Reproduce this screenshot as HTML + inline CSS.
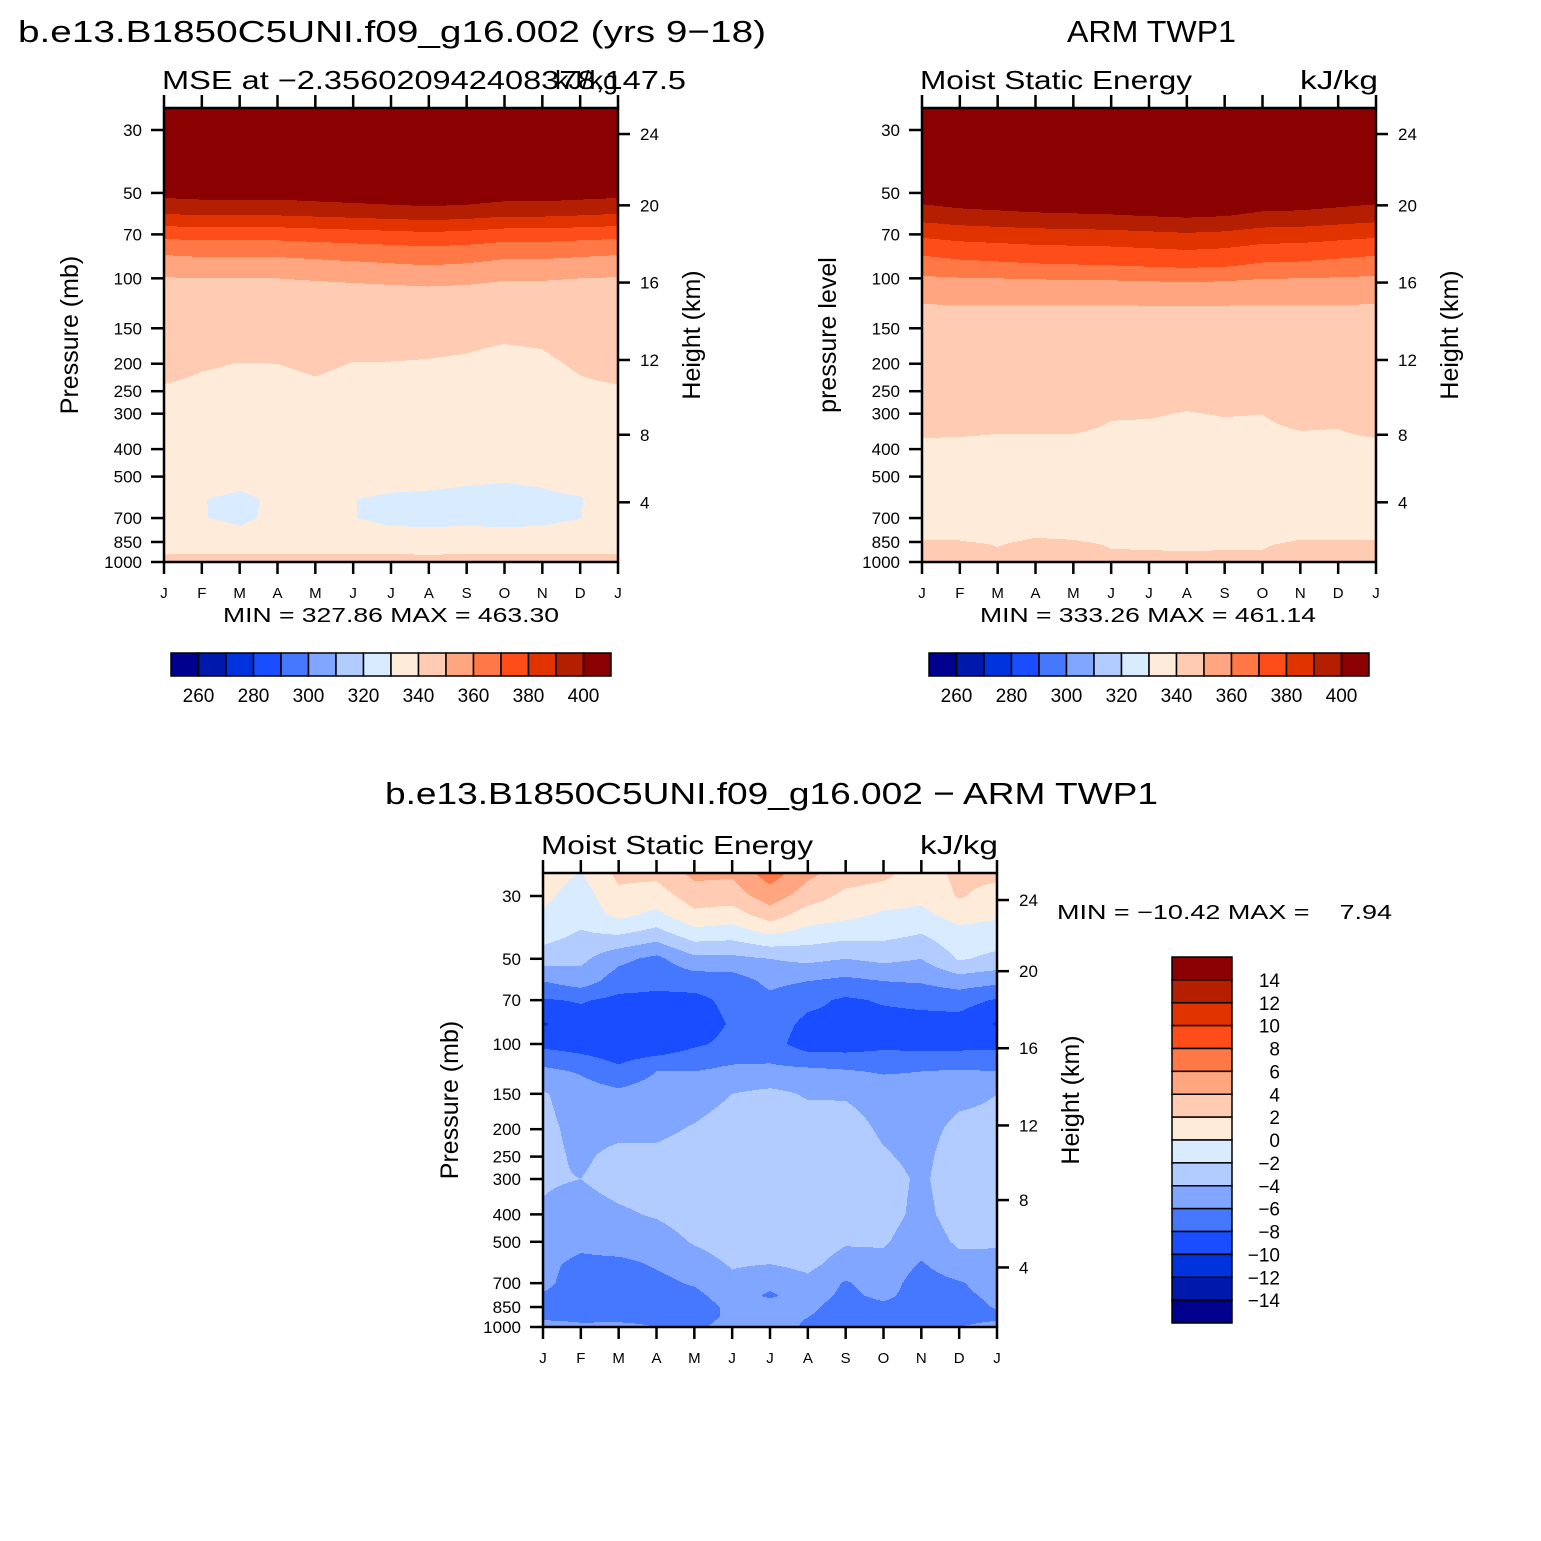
<!DOCTYPE html>
<html><head><meta charset="utf-8"><style>
html,body{margin:0;padding:0;background:#fff;}
svg{display:block;font-family:"Liberation Sans",sans-serif;}
</style></head><body>
<svg id="fig" xmlns="http://www.w3.org/2000/svg" width="1541" height="1541" viewBox="0 0 1541 1541">
<rect width="1541" height="1541" fill="#fff"/>
<text x="18" y="42" font-size="31" textLength="748" lengthAdjust="spacingAndGlyphs">b.e13.B1850C5UNI.f09_g16.002 (yrs 9−18)</text>
<text x="1067" y="42" font-size="31" textLength="169" lengthAdjust="spacingAndGlyphs">ARM TWP1</text>
<text x="162" y="89" font-size="26" textLength="524" lengthAdjust="spacingAndGlyphs">MSE at −2.356020942408378,147.5</text>
<text x="555" y="89" font-size="26" textLength="63" lengthAdjust="spacingAndGlyphs">kJ/kg</text>
<text x="920" y="89" font-size="26" textLength="272" lengthAdjust="spacingAndGlyphs">Moist Static Energy</text>
<text x="1300" y="89" font-size="26" textLength="78" lengthAdjust="spacingAndGlyphs">kJ/kg</text>
<text x="385" y="804" font-size="31" textLength="773" lengthAdjust="spacingAndGlyphs">b.e13.B1850C5UNI.f09_g16.002 − ARM TWP1</text>
<text x="541" y="854" font-size="26" textLength="272" lengthAdjust="spacingAndGlyphs">Moist Static Energy</text>
<text x="920" y="854" font-size="26" textLength="78" lengthAdjust="spacingAndGlyphs">kJ/kg</text>
<text x="391" y="622" font-size="20" text-anchor="middle" textLength="336" lengthAdjust="spacingAndGlyphs">MIN = 327.86 MAX = 463.30</text>
<text x="1148" y="622" font-size="20" text-anchor="middle" textLength="336" lengthAdjust="spacingAndGlyphs">MIN = 333.26 MAX = 461.14</text>
<text x="1057" y="919" font-size="20" textLength="335" lengthAdjust="spacingAndGlyphs" xml:space="preserve">MIN = −10.42 MAX =    7.94</text>
<text transform="translate(78,335) rotate(-90)" font-size="25" text-anchor="middle">Pressure  (mb)</text>
<text transform="translate(700,335) rotate(-90)" font-size="25" text-anchor="middle">Height  (km)</text>
<text transform="translate(836,335) rotate(-90)" font-size="25" text-anchor="middle">pressure level</text>
<text transform="translate(1458,335) rotate(-90)" font-size="25" text-anchor="middle">Height  (km)</text>
<text transform="translate(458,1100) rotate(-90)" font-size="25" text-anchor="middle">Pressure  (mb)</text>
<text transform="translate(1079,1100) rotate(-90)" font-size="25" text-anchor="middle">Height  (km)</text>
</svg>
<script>
const months = ["J","F","M","A","M","J","J","A","S","O","N","D","J"];
const pTicks = [30,50,70,100,150,200,250,300,400,500,700,850,1000];
const hTicks = [24,20,16,12,8,4];
const hTickP = [31,55.3,103.5,194,356,616];
const palette = ["#00008f","#0019ad","#0033dd","#1a4dff","#4577ff","#80a6ff","#b3ccff","#d9ebff","#ffebd9","#ffcbb3","#ffa680","#ff7845","#ff4d1a","#e03300","#b31f00","#8b0000"];
const cbLevels1 = [260,270,280,290,300,310,320,330,340,350,360,370,380,390,400];
const cbLevels3 = [-14,-12,-10,-8,-6,-4,-2,0,2,4,6,8,10,12,14];
const levels1 = [25,30,40,50,55,60,70,80,90,100,125,150,200,250,300,400,500,600,700,850,925,1000];
const mse1 = [
[430,430,430,430,430,430,430,430,430,430,430,430,430],
[425,425,425,425,425,425,425,425,425,425,425,425,425],
[415,415,415,415,415,415,415,415,415,415,415,415,415],
[403,404,404,404,405,406,407,408,407,405,405,404,403],
[396,397,397,397,398,399,400,401,400,398,398,397,396],
[389,390,390,390,391,392,393,394,393,391,391,390,389],
[373,374,374,374,375,376,377,378,377,375,375,374,373],
[362,363,363,363,364,365,366,367,366,364,364,363,362],
[355,356,356,356,357,358,359,360,359,357,357,356,355],
[349.5,350,350,350,350.5,351,351.5,352,351.5,350.5,350.5,350,349.5],
[345,345,345,345,345,345,345.2,345.3,345.2,345,345,345,345],
[343,343,342.8,342.8,342.5,341.5,341.5,341.2,341,340.8,341,342.5,343],
[341.5,340.4,339.9,340,340.6,339.9,339.9,339.8,339.6,339,339.3,340.5,341.5],
[339.5,339,338.8,338.8,339.3,338.8,338.8,338.7,338.6,338.3,338.5,339.3,339.5],
[337,337,336.5,336.5,337,336.5,336.5,336.5,336.5,336,336.5,337,337],
[334,334,333.5,333.5,334,333.5,333.5,333.5,333,333,333,334,334],
[333,332,331,332,333,331.5,331,330.8,330.5,330.3,330.6,331.5,333],
[332,330.1,329.4,330.5,332,330.05,329.6,329.5,329.3,329.2,329.4,329.8,332],
[333,330.1,329.5,330.6,332,330.05,329.5,329.4,329.5,329.4,329.5,329.9,333],
[334,332,331,332,333,331.5,331,331,331,331,331,332,334],
[339.7,339.6,339.5,339.5,339.6,339.6,339.5,339.4,339.5,339.5,339.6,339.6,339.7],
[342,342,342,342,342,342,342,342,342,342,342,342,342]];
const mse2 = [
[430,430,430,430,430,430,430,430,430,430,430,430,430],
[425,425,425,425,425,425,425,425,425,425,425,425,425],
[415,415,415,415,415,415,415,415,415,415,415,415,415],
[405,406,407,408,408,409,410,411,410,408,407,406,405],
[399.8,401.8,402.8,403.8,404.3,404.8,405.8,406.8,405.8,403.3,402.8,401.3,399.8],
[394.5,396.5,397.5,398.5,399,399.5,400.5,401.5,400.5,398,397.5,396,394.5],
[382,384,385,386,386.5,387,388,389,388,385.5,385,383.5,382],
[372.5,374.5,375.5,376.5,377,377.5,378.5,379.5,378.5,376,375.5,374,372.5],
[365,367,368,369,369.5,370,371,372,371,368.5,368,366.5,365],
[358.8,359.6,360,360.4,360.6,360.8,361.2,361.6,361.2,360.2,360,359.4,358.8],
[349.5,349.6,349.7,349.7,349.8,349.8,349.9,349.9,349.9,349.7,349.7,349.6,349.5],
[347,347,347,347,347,347,347,347,347,347,347,347,347],
[344,344,343.5,343.5,343.5,343,343,342.5,343,343,343.5,343.5,344],
[343,343,342.5,342.5,342.5,341.5,341.5,340.8,341.2,341,342,342,343],
[342.2,341.9,341.33,341.33,341.33,340.25,340.17,339.9,340.11,340.02,340.94,340.75,342.2],
[339,339,339,339,339,339,339,339,339,339,339,339,339],
[337,337,337,337,337,337,337,337,337,337,337,337,337],
[336.5,336.5,336.5,336.5,336.5,336.5,336.5,336.5,336.5,336.5,336.5,336.5,336.5],
[337,337,337,337,337,337,337,337,337,337,337,337,337],
[340.3,340.2,339.5,340.6,340.3,339.4,339.3,339.2,339.3,339.3,340.3,340.3,340.3],
[343,343,340.5,343,343,340.3,340.2,340.1,340.2,340.2,343,343,343],
[345,345,345,345,345,345,345,345,345,345,345,345,345]];
const levels3 = [25,30,35,40,50,60,70,85,100,125,150,200,250,300,400,500,600,700,775,850,925,1000];
const diff3 = [
[1,-0.1,2.5,2.5,4.5,4.3,7,4.5,3,2.5,1,2.5,2.5],
[0.5,-1,1.5,1,3,3,5,3,1.5,1,0.5,2.2,1.2],
[-0.3,-1.2,0.5,-0.5,1.5,1,3,1,0.5,-0.3,-0.5,0.8,0.3],
[-1,-2.1,-1.5,-2.5,-0.5,-0.8,0.5,-0.5,-1,-1.2,-1.8,-0.5,-0.8],
[-3,-3.5,-5.5,-6.5,-4.5,-4.5,-4,-3.5,-4,-3.5,-4,-1.8,-2.5],
[-6,-5,-7,-7.5,-7.2,-7,-5.5,-6,-6.5,-6,-5.8,-5,-5.5],
[-8.2,-7.8,-8.5,-8.5,-8.5,-7.5,-6.5,-7.5,-8.3,-7.8,-7.5,-7.2,-8.2],
[-10.2,-9,-9.5,-9.5,-9,-7.8,-7,-8.5,-8.5,-8.7,-8.7,-8.8,-10.2],
[-8.5,-9,-9.5,-9.5,-8.3,-7.5,-7.2,-9,-9,-8.5,-8.7,-8.7,-8.5],
[-5.5,-6.2,-7.5,-6,-6,-5.5,-5.5,-5.5,-5.8,-6.2,-6,-5.8,-6],
[-3.8,-5,-5.5,-5,-5,-4,-3.5,-4.2,-4.2,-4.8,-5,-4.5,-4],
[-3.5,-4.6,-4.5,-4.5,-3.8,-3,-3,-3,-3.2,-4.3,-4.7,-3.5,-3.5],
[-3.5,-4.3,-3.5,-3.5,-3,-2.8,-2.7,-2.7,-3,-3.8,-4.5,-3,-3.3],
[-3.8,-4,-3.3,-3,-3,-2.8,-2.7,-2.7,-3,-3.3,-4.3,-3,-3.2],
[-4.2,-4.8,-4.3,-3.8,-3,-2.8,-2.8,-2.8,-3.2,-3.3,-4.5,-3.2,-3.3],
[-5,-5.5,-5,-5,-3.8,-3,-3,-3,-3.8,-3.8,-5,-3.7,-3.8],
[-5.5,-6.5,-6.5,-5.8,-5,-3.8,-4,-3.5,-4.8,-4.5,-6.2,-4.6,-4.5],
[-5.5,-7,-7,-6.5,-5.8,-4.5,-5.5,-4.5,-6.2,-5,-7,-6.2,-5],
[-6.2,-7,-7,-7,-6.5,-5,-6.3,-5,-6.5,-5.5,-7,-6.5,-5.5],
[-6.5,-7.2,-7,-7,-7,-5.5,-5,-5.5,-7,-6.5,-7.2,-7,-5.8],
[-7,-7.2,-7,-7,-7,-5.5,-5,-6,-7,-6.5,-7,-7,-6.5],
[-3.5,-5,-5,-6,-6.5,-5,-4.5,-6.5,-6.5,-6,-6.5,-6,-5]];

const NS = "http://www.w3.org/2000/svg";
const fig = document.getElementById("fig");
function mk(tag, parent){ const e=document.createElementNS(NS,tag); parent.appendChild(e); return e; }
function sa(e,o){ for(const k in o) e.setAttribute(k,o[k]); return e; }

function drawPanel(id, x0, x1, yTop, y30, y1000, levels, vals, cbl){
  const g = mk("g", fig);
  
  
  const L30=Math.log10(30), L1000=3;
  const yOf = p => y30 + (Math.log10(p)-L30)/(L1000-L30)*(y1000-y30);
  const pOf = y => Math.pow(10, L30 + (y-y30)/(y1000-y30)*(L1000-L30));
  const xOf = m => x0 + m/(months.length-1)*(x1-x0);
  const logL = levels.map(Math.log10);
  const nm = months.length-1;
  const fill = mk("g", g);
  
  
  for(let y=yTop; y<y1000; y++){
    const lp = Math.log10(pOf(y+0.5));
    let j=0; while(j<logL.length-2 && lp>logL[j+1]) j++;
    let gq=(lp-logL[j])/(logL[j+1]-logL[j]); gq=Math.max(0,Math.min(1,gq));
    let runStart=x0, runC=-1;
    for(let x=x0; x<=x1; x++){
      let c=-1;
      if(x<x1){
        let t=(x+0.5-x0)/(x1-x0)*nm; let i=Math.min(nm-1,Math.floor(t)); let f=t-i;
        const v=(1-gq)*((1-f)*vals[j][i]+f*vals[j][i+1])+gq*((1-f)*vals[j+1][i]+f*vals[j+1][i+1]);
        c=0; while(c<cbl.length && v>=cbl[c]) c++;
      }
      if(c!==runC){
        if(runC>=0){
          const r=mk("rect", fill);
          sa(r,{x:runStart,y:y,width:x-runStart,height:1.3,fill:palette[runC]});
          
          
        }
        runStart=x; runC=c;
      }
    }
  }
  const fr=mk("rect", g);
  sa(fr,{x:x0,y:yTop,width:x1-x0,height:y1000-yTop,fill:"none",stroke:"#000","stroke-width":2.5});
  
  
  pTicks.forEach(p=>{
    const y=yOf(p);
    const t=mk("line", g); sa(t,{x1:x0-13,x2:x0,y1:y,y2:y,stroke:"#000","stroke-width":2.5});
    
    
    const lb=mk("text", g); sa(lb,{x:x0-22,y:y+6,"font-size":17,"text-anchor":"end"}); lb.textContent=p;
    
    
  });
  hTicks.forEach((h,k)=>{
    const y=yOf(hTickP[k]);
    const t=mk("line", g); sa(t,{x1:x1,x2:x1+12,y1:y,y2:y,stroke:"#000","stroke-width":2.5});
    
    
    const lb=mk("text", g); sa(lb,{x:x1+22,y:y+6,"font-size":17}); lb.textContent=h;
    
    
  });
  months.forEach((m,k)=>{
    const x=xOf(k);
    const t=mk("line", g); sa(t,{x1:x,x2:x,y1:yTop-13,y2:yTop,stroke:"#000","stroke-width":2.5});
    
    
    const b=mk("line", g); sa(b,{x1:x,x2:x,y1:y1000,y2:y1000+12,stroke:"#000","stroke-width":2.5});
    
    
    const lb=mk("text", g); sa(lb,{x:x,y:y1000+36,"font-size":15,"text-anchor":"middle"}); lb.textContent=m;
    
    
  });
}

function hColorbar(id, x0, y0, w, h, labels){
  const g=mk("g", fig);
  
  
  const bw=w/palette.length;
  palette.forEach((c,k)=>{
    const r=mk("rect", g); sa(r,{x:x0+k*bw,y:y0,width:bw,height:h,fill:c,stroke:"#000","stroke-width":1.5});
    
    
  });
  labels.forEach((v,k)=>{
    if(k%2!==0) return;
    const lb=mk("text", g); sa(lb,{x:x0+(k+1)*bw,y:y0+49,"font-size":19,"text-anchor":"middle"}); lb.textContent=v;
    
    
  });
}

drawPanel("panel1",164,618,108,130,562,levels1,mse1,cbLevels1);
drawPanel("panel2",922,1376,108,130,562,levels1,mse2,cbLevels1);
drawPanel("panel3",543,997,873,896,1327,levels3,diff3,cbLevels3);
hColorbar("panel1-colorbar",171,653,440,23,cbLevels1);
hColorbar("panel2-colorbar",929,653,440,23,cbLevels1);

(function(){
  const g=mk("g", fig);
  
  
  const x0=1172, y0=957, w=60, h=366, bh=h/palette.length;
  palette.slice().reverse().forEach((c,k)=>{
    const r=mk("rect", g); sa(r,{x:x0,y:y0+k*bh,width:w,height:bh,fill:c,stroke:"#000","stroke-width":1.5});
    
    
  });
  cbLevels3.slice().reverse().forEach((v,k)=>{
    const lb=mk("text", g); sa(lb,{x:1280,y:y0+(k+1)*bh+7,"font-size":19,"text-anchor":"end"}); lb.textContent=String(v).replace("-","−");
    
    
  });
})();
</script>
</body></html>
